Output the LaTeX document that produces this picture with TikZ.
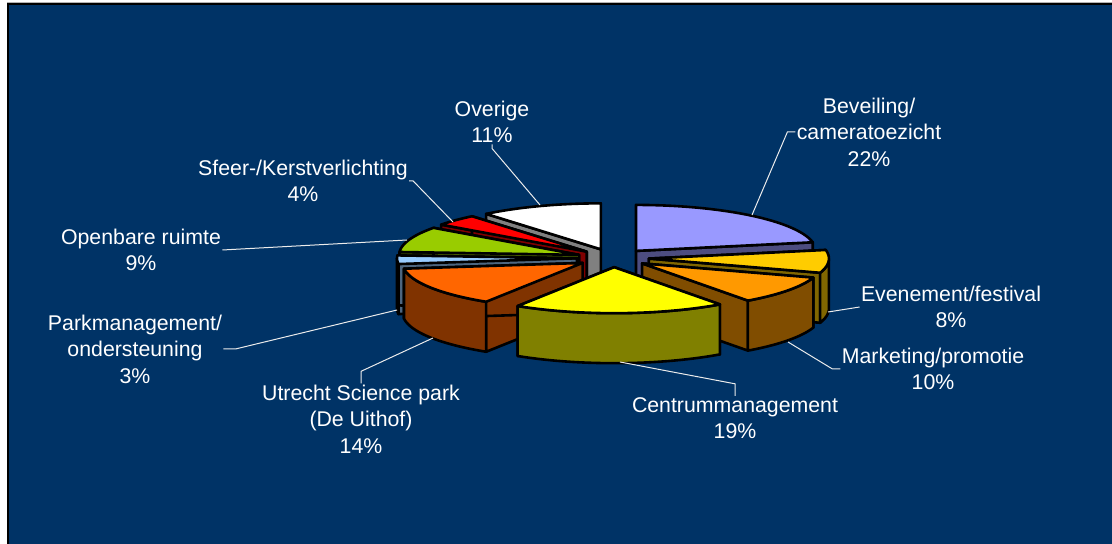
\documentclass[tikz,border=0pt]{standalone}
\usepackage{fontspec}
\setmainfont{Liberation Sans}
\definecolor{chartbg}{HTML}{003366}
\definecolor{bevtop}{HTML}{9999FF}
\definecolor{bevside}{HTML}{4D4D80}
\definecolor{evntop}{HTML}{FFCC00}
\definecolor{evnside}{HTML}{806600}
\definecolor{mkttop}{HTML}{FF9900}
\definecolor{mktside}{HTML}{804D00}
\definecolor{centop}{HTML}{FFFF00}
\definecolor{censide}{HTML}{808000}
\definecolor{utrtop}{HTML}{FF6600}
\definecolor{utrside}{HTML}{803300}
\definecolor{prktop}{HTML}{99CCFF}
\definecolor{prkside}{HTML}{4D6680}
\definecolor{opbtop}{HTML}{99CC00}
\definecolor{opbside}{HTML}{4D6600}
\definecolor{sfetop}{HTML}{FF0000}
\definecolor{sfeside}{HTML}{800000}
\definecolor{ovetop}{HTML}{FFFFFF}
\definecolor{oveside}{HTML}{808080}
% one exploded slice: start, end (degrees clockwise from top), top colour, side colour
\newcommand{\pieslice}[4]{%
  \pgfmathsetmacro{\slmid}{(#1+#2)/2}
  \pgfmathsetmacro{\slx}{613+36*sin(\slmid)}
  \pgfmathsetmacro{\sly}{258-9.2*cos(\slmid)}
  \filldraw[face,fill=#4] (\slx,\sly) -- ({\slx+180*sin(#1)},{\sly-46*cos(#1)})
    -- ++(0,50) -- (\slx,{\sly+50}) -- cycle;
  \filldraw[face,fill=#4] (\slx,\sly) -- ({\slx+180*sin(#2)},{\sly-46*cos(#2)})
    -- ++(0,50) -- (\slx,{\sly+50}) -- cycle;
  \pgfmathsetmacro{\sllo}{max(#1,90)}
  \pgfmathsetmacro{\slhi}{min(#2,270)}
  \ifdim\sllo pt<\slhi pt
    \filldraw[face,fill=#4]
      plot[domain=\sllo:\slhi,samples=30] ({\slx+180*sin(\x)},{\sly-46*cos(\x)})
      -- plot[domain=\slhi:\sllo,samples=30] ({\slx+180*sin(\x)},{\sly+50-46*cos(\x)})
      -- cycle;
  \fi
  \filldraw[face,fill=#3] (\slx,\sly)
    -- plot[domain=#1:#2,samples=30] ({\slx+180*sin(\x)},{\sly-46*cos(\x)}) -- cycle;
}

\begin{document}
\begin{tikzpicture}[x=0.5pt,y=-0.5pt,
    face/.style={draw=black,line width=1.3pt,line join=round},
    lbl/.style={text=white,align=center,inner sep=0.5pt,
      font=\fontsize{10.65}{13.25}\selectfont},
    leader/.style={draw=white!85!gray,line width=0.5pt}]
  \useasboundingbox (0,0) rectangle (1112,544);
  \fill[white] (0,0) rectangle (1112,544);
  \fill[gray!60] (7,2) rectangle (1112,4);
  \filldraw[fill=chartbg,draw=black,line width=1pt] (7.5,4.5) rectangle (1114,546);

  % slices, back to front
  \pieslice{320.4}{360}{ovetop}{oveside}
  \pieslice{0}{79.2}{bevtop}{bevside}
  \pieslice{306}{320.4}{sfetop}{sfeside}
  \pieslice{273.6}{306}{opbtop}{opbside}
  \pieslice{262.8}{273.6}{prktop}{prkside}
  \pieslice{79.2}{108}{evntop}{evnside}
  \pieslice{212.4}{262.8}{utrtop}{utrside}
  \pieslice{108}{144}{mkttop}{mktside}
  \pieslice{144}{212.4}{centop}{censide}

  % labels
  \node[lbl] (ove) at (492,122) {Overige\\11\%};
  \node[lbl] (bev) at (869,132) {Beveiling/\\cameratoezicht\\22\%};
  \node[lbl] (sfe) at (303,181) {Sfeer-/Kerstverlichting\\4\%};
  \node[lbl] (opb) at (141,250) {Openbare ruimte\\9\%};
  \node[lbl] (prk) at (135,349) {Parkmanagement/\\ondersteuning\\3\%};
  \node[lbl] (utr) at (361,419) {Utrecht Science park\\(De Uithof)\\14\%};
  \node[lbl] (cen) at (735,418) {Centrummanagement\\19\%};
  \node[lbl] (mkt) at (933,369) {Marketing/promotie\\10\%};
  \node[lbl] (evn) at (951,307) {Evenement/festival\\8\%};

  % leader lines
  \coordinate (ove-end) at (540,205);
  \coordinate (bev-end) at (752,215);
  \coordinate (sfe-end) at (453,222);
  \coordinate (opb-end) at (407,240);
  \coordinate (prk-end) at (397,310);
  \coordinate (utr-end) at (433,338);
  \coordinate (cen-end) at (620,362);
  \coordinate (mkt-end) at (788,342);
  \coordinate (evn-end) at (828,312);
  \draw[leader] (ove.south) -- ++(0,4) -- (ove-end);
  \draw[leader] (bev.west) -- ++(-8,0) -- (bev-end);
  \draw[leader] (sfe.east) -- ++(4,0) -- (sfe-end);
  \draw[leader] (opb.east) -- (opb-end);
  \draw[leader] (prk.east) -- ++(12,0) -- (prk-end);
  \draw[leader] (utr.north) -- ++(0,-12) -- (utr-end);
  \draw[leader] (cen.north) -- ++(0,-12) -- (cen-end);
  \draw[leader] (mkt.west) -- ++(-8,0) -- (mkt-end);
  \draw[leader] (evn.west) -- (evn-end);
\end{tikzpicture}
\end{document}
